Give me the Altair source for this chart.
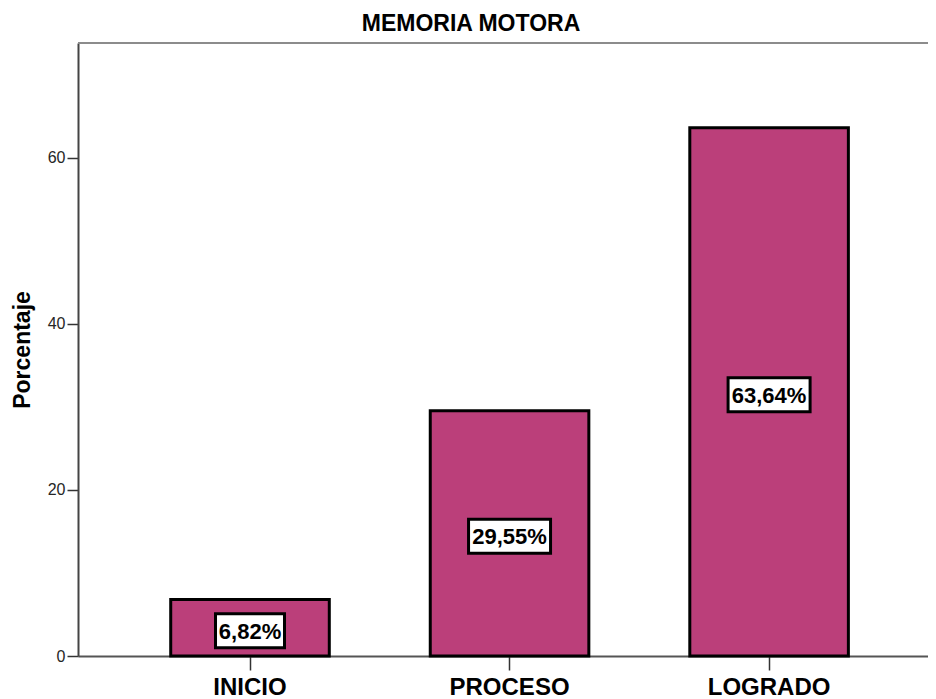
import altair as alt
import pandas as pd

categories = ["INICIO", "PROCESO", "LOGRADO"]
values = [6.82, 29.55, 63.64]
labels = ["6,82%", "29,55%", "63,64%"]

df = pd.DataFrame({"cat": categories, "val": values, "lab": labels})

FONT = "Liberation Sans"
BAR = "#BB3F7A"

x_enc = alt.X(
    "cat:N",
    sort=categories,
    scale=alt.Scale(paddingInner=0.389, paddingOuter=0.332, align=0.538),
    axis=alt.Axis(
        title=None, labelAngle=0, labelFont=FONT, labelFontSize=24,
        labelFontWeight="bold", labelColor="#000000", labelPadding=5,
        tickSize=14, tickColor="#333333", tickWidth=1.5,
        domainColor="#555555", domainWidth=2,
    ),
)

y_scale = alt.Scale(domain=[0, 73.85], nice=False, zero=True)

base = alt.Chart(df)

bars = base.mark_bar(color=BAR, stroke="#000000", strokeWidth=3).encode(
    x=x_enc,
    y=alt.Y(
        "val:Q",
        scale=y_scale,
        axis=alt.Axis(
            title="Porcentaje", values=[0, 20, 40, 60], grid=False,
            labelFont=FONT, labelFontSize=16, labelColor="#262626", labelPadding=2,
            tickSize=11, tickColor="#333333", tickWidth=1.5,
            domainColor="#444444", domainWidth=2,
            titleFont=FONT, titleFontSize=23, titleFontWeight="bold",
            titleColor="#000000", titleAngle=270, titleBaseline="middle",
            titleAlign="center", titleX=-56, titleY=306.5,
        ),
    ),
)

top_rule = alt.Chart(pd.DataFrame({"a": [0]})).mark_rule(
    color="#8c8c8c", strokeWidth=2
).encode(y=alt.value(0))

boxes = base.transform_calculate(
    mid="datum.val / 2",
    w="13 * length(datum.lab) + 4",
).transform_calculate(
    sz="datum.w * datum.w",
    shp="'M-1,' + (-34 / datum.w) + 'L1,' + (-34 / datum.w) + 'L1,' + (34 / datum.w) + 'L-1,' + (34 / datum.w) + 'Z'",
).mark_point(
    filled=True, fill="#ffffff", stroke="#000000", strokeWidth=3, opacity=1,
    fillOpacity=1, yOffset=3,
).encode(
    x=alt.X("cat:N", sort=categories),
    y=alt.Y("mid:Q", scale=y_scale),
    size=alt.Size("sz:Q", scale=None, legend=None),
    shape=alt.Shape("shp:N", scale=None, legend=None),
)

texts = base.transform_calculate(mid="datum.val / 2").mark_text(
    font=FONT, fontSize=22, fontWeight="bold", color="#000000",
    baseline="middle", align="center", dy=4,
).encode(
    x=alt.X("cat:N", sort=categories),
    y=alt.Y("mid:Q", scale=y_scale),
    text="lab:N",
)

chart = alt.layer(bars, top_rule, boxes, texts).properties(
    width=850,
    height=613,
    title=alt.TitleParams(
        "MEMORIA MOTORA", font=FONT, fontSize=23, fontWeight="bold",
        color="#000000", offset=6, anchor="middle", dx=-32,
    ),
    padding={"left": 70, "top": 35, "right": 0, "bottom": 43},
    autosize=alt.AutoSizeParams(type="none"),
).configure_view(
    fill="#F0F0F0", stroke="#F0F0F0", strokeWidth=0
).configure(background="#ffffff")

chart.save("out.html", embed_options={"renderer": "svg", "actions": False})
